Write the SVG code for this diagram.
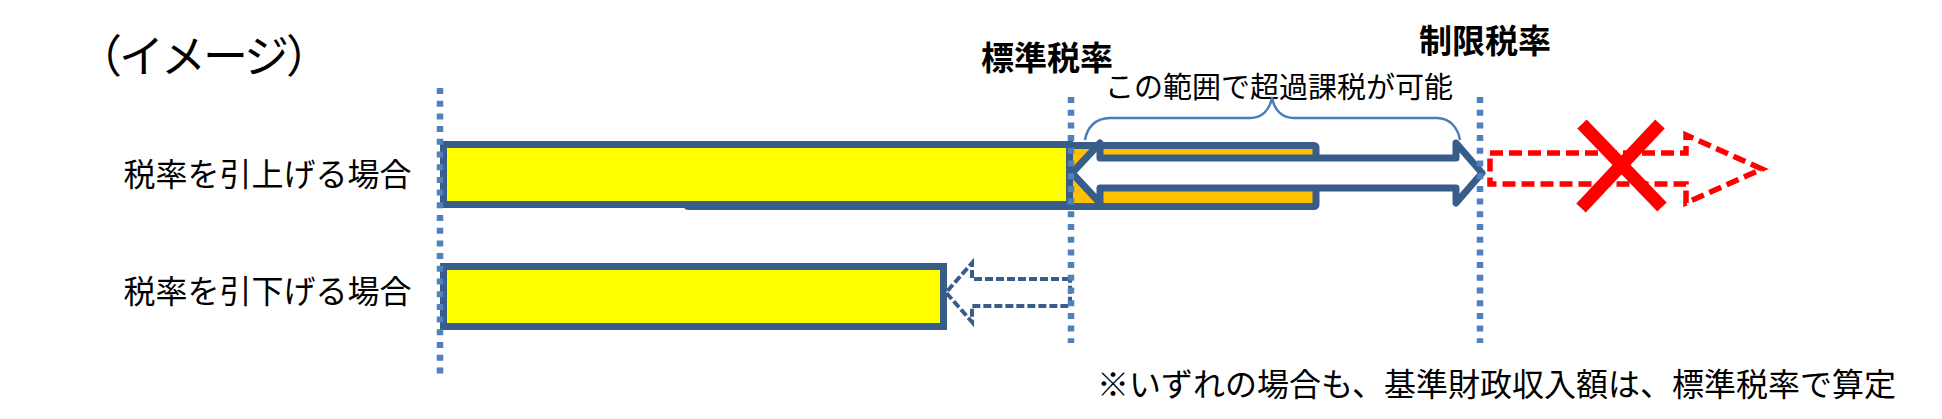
<svg xmlns="http://www.w3.org/2000/svg" width="1942" height="419" viewBox="0 0 1942 419">
  <style>
    .t { font-family: "Noto Sans CJK JP", "Noto Sans CJK SC", sans-serif; fill: #000; }
    .b { font-weight: 700; }
    .bar { stroke: #385D8A; stroke-width: 7; }
    .guide { fill: none; stroke: #4F81BD; stroke-width: 6.5; stroke-dasharray: 6 6.7; }
  </style>
  <rect width="1942" height="419" fill="#fff"/>

  <g id="title"><text class="t" x="77" y="73" font-size="45" letter-spacing="-3">（イメージ）</text></g>
  <g id="label-raise"><text class="t" x="123.5" y="186" font-size="32">税率を引上げる場合</text></g>
  <g id="label-lower"><text class="t" x="123.5" y="302.5" font-size="32">税率を引下げる場合</text></g>
  <g id="label-standard"><text class="t b" x="981" y="70" font-size="33">標準税率</text></g>
  <g id="label-limit"><text class="t b" x="1419" y="53" font-size="33">制限税率</text></g>
  <g id="label-range"><text class="t" x="1105" y="98" font-size="29">この範囲で超過課税が可能</text></g>
  <g id="note"><text class="t" x="1097" y="396" font-size="32">※いずれの場合も、基準財政収入額は、標準税率で算定</text></g>

  <g id="excess-bar">
    <rect class="bar" x="686.5" y="145.5" width="629.5" height="61" rx="2" fill="#FFC000"/>
  </g>
  <g id="bar-raise">
    <rect class="bar" x="443.5" y="144.5" width="626" height="60" fill="#FFFF00"/>
  </g>
  <g id="bar-lower">
    <rect class="bar" x="443.5" y="266.5" width="500" height="60" fill="#FFFF00"/>
  </g>

  <g id="connectors">
    <path id="range-arrow" d="M1072,173 L1100,143 L1100,158 L1456,158 L1456,143 L1482,173 L1456,203 L1456,188 L1100,188 L1100,203 Z" fill="#fff" stroke="#385D8A" stroke-width="7" stroke-linejoin="round"/>
    <path id="lower-arrow" d="M1070,279 L972,279 L972,263 L946,292.5 L972,322 L972,306 L1070,306 Z" fill="#fff" stroke="#385D8A" stroke-width="4" stroke-dasharray="8 3"/>
    <path id="forbidden-arrow" d="M1490,153 L1686,153 L1686,135 L1762,169 L1686,203 L1686,184 L1490,184 Z" fill="#fff" stroke="#FF0000" stroke-width="5.5" stroke-dasharray="13 6"/>
    <path id="brace" d="M1085,140 C1087,128 1095,118 1110,118 L1250,118 C1262,118 1270,110 1272,97 C1274,110 1282,118 1294,118 L1437,118 C1450,118 1458,128 1460,140" fill="none" stroke="#4A7EBB" stroke-width="2.5"/>
    <line class="guide" x1="440" y1="88" x2="440" y2="375"/>
    <line class="guide" x1="1071" y1="97" x2="1071" y2="343"/>
    <line class="guide" x1="1480" y1="97" x2="1480" y2="343"/>
  </g>

  <g id="cross" stroke="#FF0000" stroke-width="13">
    <line x1="1582" y1="124" x2="1662" y2="207"/>
    <line x1="1660" y1="124" x2="1581" y2="208"/>
  </g>
</svg>
